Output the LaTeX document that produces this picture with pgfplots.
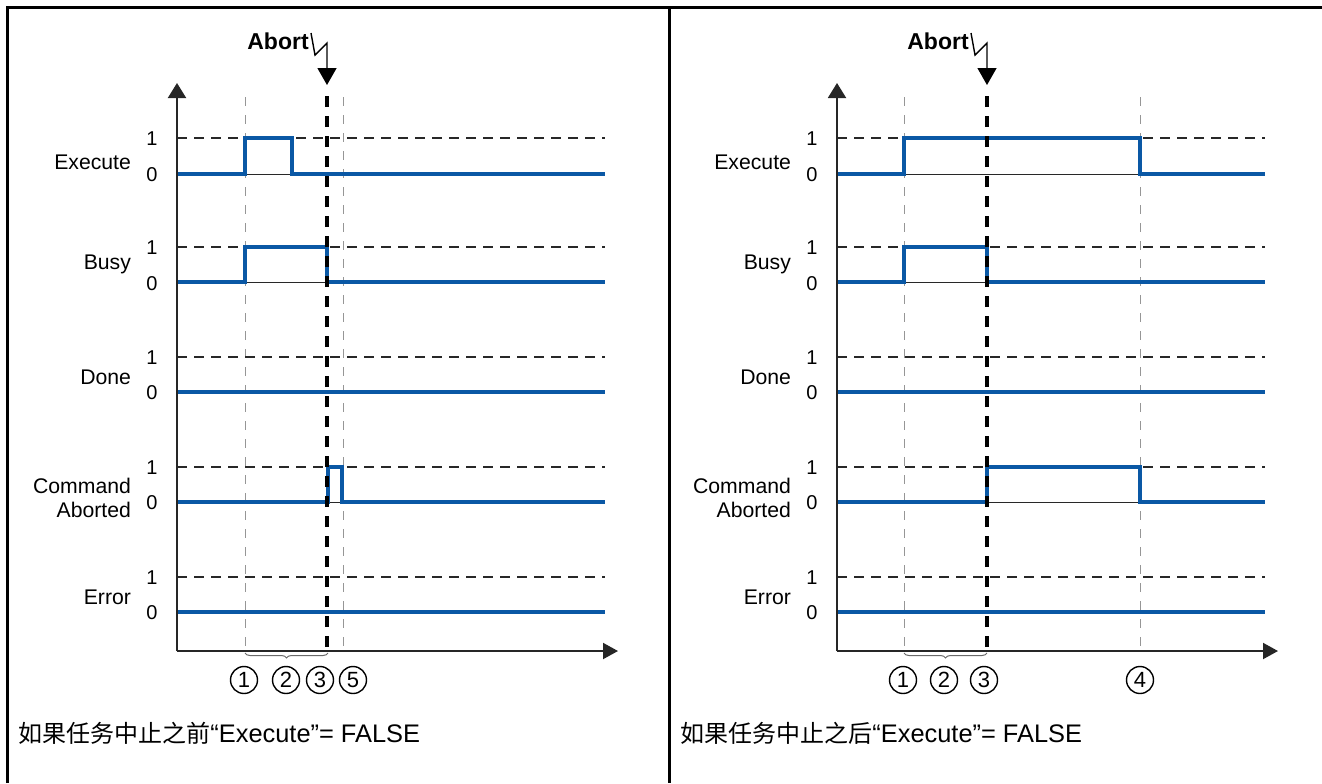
\documentclass[border=0pt]{standalone}
\usepackage{pgfplots}
\pgfplotsset{compat=1.18}
\usepackage{fontspec}
\setmainfont{Liberation Sans}
\newfontfamily\cjk{Noto Sans CJK SC}
\usetikzlibrary{arrows.meta,decorations.pathreplacing}
\definecolor{sigblue}{RGB}{10,88,165}
\definecolor{gridgray}{RGB}{150,150,150}
\definecolor{dashdark}{RGB}{40,40,40}

\begin{document}
\begin{tikzpicture}
\begin{axis}[
  scale only axis, width=661pt, height=391.5pt,
  xmin=0, xmax=1322, ymin=0, ymax=783, y dir=reverse,
  hide axis, clip=false,
]
% ---- frame
\draw[line width=1.5pt, black] (axis cs:7,783) -- (axis cs:7,7) -- (axis cs:1322,7);
\draw[line width=1.5pt, black] (axis cs:669,7) -- (axis cs:669,783);

% ================= LEFT PANEL =================
\foreach \xx in {245,343} {
  \edef\tmp{\noexpand\draw[gridgray, line width=0.5pt, dash pattern=on 4.5pt off 4.5pt] (axis cs:\xx,97) -- (axis cs:\xx,650);}\tmp
}
\foreach \yy in {138,247,357,467,577} {
  \edef\tmp{\noexpand\draw[dashdark, line width=0.7pt, dash pattern=on 5pt off 3.5pt] (axis cs:177,\yy) -- (axis cs:605,\yy);}\tmp
}
\foreach \yy in {174,282,502} {
  \edef\tmp{\noexpand\draw[dashdark, line width=0.5pt] (axis cs:177,\yy) -- (axis cs:605,\yy);}\tmp
}
% signals
\addplot[sigblue, line width=2pt, line join=miter] coordinates {(177,174)(245,174)(245,138)(292,138)(292,174)(605,174)};
\addplot[sigblue, line width=2pt, line join=miter] coordinates {(177,282)(245,282)(245,247)(327,247)(327,282)(605,282)};
\addplot[sigblue, line width=2pt] coordinates {(177,392)(605,392)};
\addplot[sigblue, line width=2pt, line join=miter] coordinates {(177,502)(328,502)(328,467)(342,467)(342,502)(605,502)};
\addplot[sigblue, line width=2pt] coordinates {(177,612)(605,612)};
\draw[black, line width=2pt, dash pattern=on 5.5pt off 4.5pt] (axis cs:327,96) -- (axis cs:327,650);
\draw[black!85, line width=1pt, -{Triangle[length=7.5pt,width=9pt]}] (axis cs:177,651) -- (axis cs:177,83);
\draw[black!85, line width=1pt, -{Triangle[length=7.5pt,width=8pt]}] (axis cs:176.5,651) -- (axis cs:618,651);
\node[font=\bfseries\fontsize{11.5}{13}\selectfont, anchor=center] at (axis cs:278,41) {Abort};
\draw[black, line width=0.7pt, -{Triangle[length=8.5pt,width=9.5pt]}] (axis cs:311,33) -- (axis cs:315,55) -- (axis cs:327,43) -- (axis cs:327,85);
\begin{scope}[font=\fontsize{10.6}{12}\selectfont]
\node[anchor=east] at (axis cs:138,162) {Execute};
\node[anchor=east] at (axis cs:138,264) {Busy};
\node[anchor=east] at (axis cs:138,377) {Done};
\node[anchor=east, align=right] at (axis cs:138,498) {Command\\Aborted};
\node[anchor=east] at (axis cs:138,597) {Error};
\end{scope}
\begin{scope}[font=\fontsize{10}{11.5}\selectfont]
\foreach \yy in {139,248,358,468,578} {\edef\tmp{\noexpand\node at (axis cs:152,\yy) {1};}\tmp}
\foreach \yy in {175,284,393,503,613} {\edef\tmp{\noexpand\node at (axis cs:152,\yy) {0};}\tmp}
\end{scope}
\draw[gridgray!70!black, line width=0.5pt, decorate, decoration={brace, mirror, amplitude=2.5pt}] (axis cs:245,653) -- (axis cs:328,653);
\begin{scope}[every node/.style={circle, draw, line width=0.7pt, inner sep=0pt, minimum size=13.5pt, font=\fontsize{11}{11}\selectfont}]
\node at (axis cs:244,680) {1};
\node at (axis cs:286,680) {2};
\node at (axis cs:320,680) {3};
\node at (axis cs:353,680) {5};
\end{scope}
\node[anchor=west, inner sep=0pt] at (axis cs:18,733) {{\cjk\fontsize{12}{14}\selectfont 如果任务中止之前}{\fontsize{12.7}{15}\selectfont “Execute”= FALSE}};

% ================= RIGHT PANEL =================
\foreach \xx in {904,1140} {
  \edef\tmp{\noexpand\draw[gridgray, line width=0.5pt, dash pattern=on 4.5pt off 4.5pt] (axis cs:\xx,97) -- (axis cs:\xx,650);}\tmp
}
\foreach \yy in {138,247,357,467,577} {
  \edef\tmp{\noexpand\draw[dashdark, line width=0.7pt, dash pattern=on 5pt off 3.5pt] (axis cs:837,\yy) -- (axis cs:1265,\yy);}\tmp
}
\foreach \yy in {174,282,502} {
  \edef\tmp{\noexpand\draw[dashdark, line width=0.5pt] (axis cs:837,\yy) -- (axis cs:1265,\yy);}\tmp
}
\addplot[sigblue, line width=2pt, line join=miter] coordinates {(837,174)(904,174)(904,138)(1140,138)(1140,174)(1265,174)};
\addplot[sigblue, line width=2pt, line join=miter] coordinates {(837,282)(904,282)(904,247)(987,247)(987,282)(1265,282)};
\addplot[sigblue, line width=2pt] coordinates {(837,392)(1265,392)};
\addplot[sigblue, line width=2pt, line join=miter] coordinates {(837,502)(987,502)(987,467)(1140,467)(1140,502)(1265,502)};
\addplot[sigblue, line width=2pt] coordinates {(837,612)(1265,612)};
\draw[black, line width=2pt, dash pattern=on 5.5pt off 4.5pt] (axis cs:987,96) -- (axis cs:987,650);
\draw[black!85, line width=1pt, -{Triangle[length=7.5pt,width=9pt]}] (axis cs:837,651) -- (axis cs:837,83);
\draw[black!85, line width=1pt, -{Triangle[length=7.5pt,width=8pt]}] (axis cs:836.5,651) -- (axis cs:1278,651);
\node[font=\bfseries\fontsize{11.5}{13}\selectfont, anchor=center] at (axis cs:938,41) {Abort};
\draw[black, line width=0.7pt, -{Triangle[length=8.5pt,width=9.5pt]}] (axis cs:971,33) -- (axis cs:975,55) -- (axis cs:987,43) -- (axis cs:987,85);
\begin{scope}[font=\fontsize{10.6}{12}\selectfont]
\node[anchor=east] at (axis cs:798,162) {Execute};
\node[anchor=east] at (axis cs:798,264) {Busy};
\node[anchor=east] at (axis cs:798,377) {Done};
\node[anchor=east, align=right] at (axis cs:798,498) {Command\\Aborted};
\node[anchor=east] at (axis cs:798,597) {Error};
\end{scope}
\begin{scope}[font=\fontsize{10}{11.5}\selectfont]
\foreach \yy in {139,248,358,468,578} {\edef\tmp{\noexpand\node at (axis cs:812,\yy) {1};}\tmp}
\foreach \yy in {175,284,393,503,613} {\edef\tmp{\noexpand\node at (axis cs:812,\yy) {0};}\tmp}
\end{scope}
\draw[gridgray!70!black, line width=0.5pt, decorate, decoration={brace, mirror, amplitude=2.5pt}] (axis cs:904,653) -- (axis cs:987,653);
\begin{scope}[every node/.style={circle, draw, line width=0.7pt, inner sep=0pt, minimum size=13.5pt, font=\fontsize{11}{11}\selectfont}]
\node at (axis cs:903,680) {1};
\node at (axis cs:944,680) {2};
\node at (axis cs:984,680) {3};
\node at (axis cs:1140,680) {4};
\end{scope}
\node[anchor=west, inner sep=0pt] at (axis cs:680,733) {{\cjk\fontsize{12}{14}\selectfont 如果任务中止之后}{\fontsize{12.7}{15}\selectfont “Execute”= FALSE}};
\end{axis}
\pgfresetboundingbox
\useasboundingbox (current axis.south west) rectangle (current axis.north east);
\end{tikzpicture}
\end{document}
